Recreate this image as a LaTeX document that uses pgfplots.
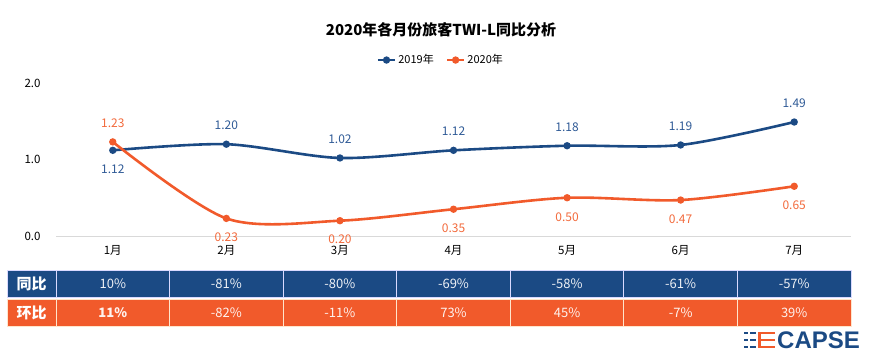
\documentclass[border=0pt]{standalone}
\usepackage{pgfplots}
\pgfplotsset{compat=1.18}
\usepackage{fontspec}
\setmainfont{Noto Sans CJK SC}
\newfontfamily\logofont{Liberation Sans}
\definecolor{cblue}{HTML}{1B4A84}
\definecolor{corange}{HTML}{F15A2B}
\definecolor{lblue}{HTML}{2F5A96}
\definecolor{lorange}{HTML}{F26A3C}

\pgfplotstableread{
x y
0 1.12
1 1.20
2 1.02
3 1.12
4 1.18
5 1.19
6 1.49
}\tabA
\pgfplotstableread{
x y
0 1.23
1 0.23
2 0.20
3 0.35
4 0.50
5 0.47
6 0.65
}\tabB

\pgfplotsset{
  dlab/.style n args={2}{forget plot, draw=none, mark=none,
    nodes near coords={\pgfmathprintnumber[fixed,fixed zerofill,precision=2,assume math mode=true]{\pgfplotspointmeta}},
    every node near coord/.append style={anchor=center, yshift=#1, text=#2, font=\fontsize{12}{12}\selectfont}},
}

\begin{document}
\begin{tikzpicture}[x=1pt,y=1pt]
\path (0,0) rectangle (869,354);
\node[font=\fontsize{15}{15}\selectfont\bfseries] at (441,324) {2020年各月份旅客TWI-L同比分析};
\begin{axis}[at={(56pt,118pt)}, anchor=south west, scale only axis,
  width=795pt, height=153pt,
  xmin=-0.5, xmax=6.5, ymin=0, ymax=2,
  axis lines*=left,
  y axis line style={draw=none},
  x axis line style={draw=black!15, line width=1pt},
  major tick length=0pt,
  xtick={0,...,6}, xticklabels={1月,2月,3月,4月,5月,6月,7月},
  ytick={0,1,2},
  /pgf/number format/assume math mode=true,
  yticklabel={\pgfmathprintnumber[fixed,fixed zerofill,precision=1]{\tick}},
  ticklabel style={font=\fontsize{11.5}{12}\selectfont},
  xticklabel style={yshift=-6pt},
  yticklabel style={xshift=-12pt},
  clip=false,
  legend style={at={(axis description cs:0.484,1.15)}, anchor=center, draw=none,
     font=\fontsize{11}{11}\selectfont, inner sep=1pt,
     /tikz/every even column/.append style={column sep=10pt}},
  legend columns=2,
]
\addplot[cblue, line width=2.6pt, smooth, mark=*, mark options={scale=1.15, solid}] table[x=x,y=y] {\tabA};
\addlegendentry{2019年}
\addplot[corange, line width=2.6pt, smooth, mark=*, mark options={scale=1.15, solid}] table[x=x,y=y] {\tabB};
\addlegendentry{2020年}
% data labels
\addplot[dlab={19pt}{lblue}] coordinates {(1,1.20) (2,1.02) (3,1.12) (4,1.18) (5,1.19) (6,1.49)};
\addplot[dlab={-19pt}{lblue}] coordinates {(0,1.12)};
\addplot[dlab={19pt}{lorange}] coordinates {(0,1.23)};
\addplot[dlab={-19pt}{lorange}] coordinates {(1,0.23) (2,0.20) (3,0.35) (4,0.50) (5,0.47) (6,0.65)};
\end{axis}
% table
\filldraw[fill=cblue, draw=blue!15!white, line width=1pt] (7,57) rectangle (56,84);
\filldraw[fill=corange, draw=orange!20!white, line width=1pt] (7,28) rectangle (56,55);
\node[text=white, font=\fontsize{15}{15}\selectfont\bfseries] at (31.5,70.5) {同比};
\node[text=white, font=\fontsize{15}{15}\selectfont\bfseries] at (31.5,41.5) {环比};
\foreach \v [count=\i from 0] in {10\%,-81\%,-80\%,-69\%,-58\%,-61\%,-57\%} {
  \pgfmathsetmacro\xl{56+113.571*\i}
  \filldraw[fill=cblue, draw=blue!15!white, line width=1pt] (\xl,57) rectangle ++(113.571,27);
  \node[text=white!92!cblue, font=\fontsize{13}{13}\selectfont] at (\xl+56.79,70.5) {\v};
}
\foreach \v [count=\i from 0] in {\textbf{11\%},-82\%,-11\%,73\%,45\%,-7\%,39\%} {
  \pgfmathsetmacro\xl{56+113.571*\i}
  \filldraw[fill=corange, draw=orange!20!white, line width=1pt] (\xl,28) rectangle ++(113.571,27);
  \node[text=white!92!corange, font=\fontsize{13}{13}\selectfont] at (\xl+56.79,41.5) {\v};
}
% logo
\foreach \yy in {21,14,7} {
  \fill[cblue] (744,\yy-1.4) rectangle (748,\yy+1.4);
  \fill[cblue] (750,\yy-1.4) rectangle (756,\yy+1.4);
  \fill[corange] (758,\yy-1.4) rectangle (775,\yy+1.4);
}
\fill[corange] (758,5.6) rectangle (761,22.4);
\node[anchor=west, text=cblue, font=\logofont\bfseries\fontsize{24}{24}\selectfont, inner sep=0pt] at (777,14) {CAPSE};
\end{tikzpicture}
\end{document}
